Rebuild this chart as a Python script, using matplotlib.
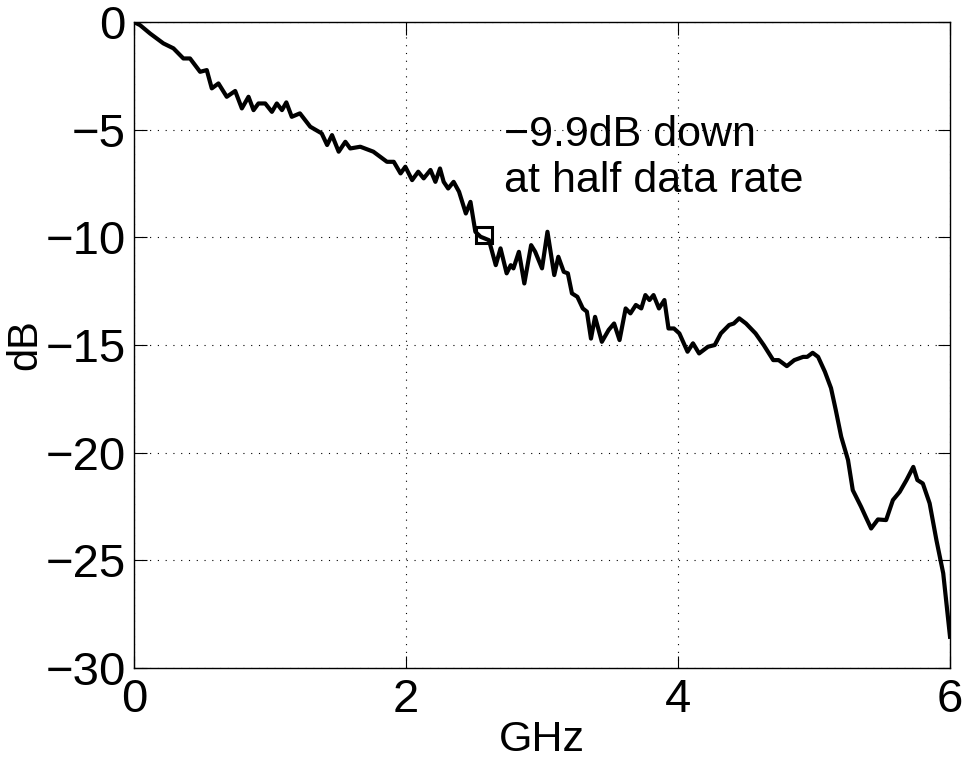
import matplotlib
matplotlib.use('Agg')
from matplotlib import pyplot as plt
import numpy as np

plt.rcParams['font.family'] = ['Liberation Sans', 'DejaVu Sans']

# frequency (GHz) and response (dB)
freq = [0.0, 0.044, 0.118, 0.216, 0.29, 0.363, 0.412, 0.486, 0.535, 0.572, 0.621,
        0.682, 0.744, 0.793, 0.842, 0.879, 0.915, 0.965, 1.014, 1.05, 1.088,
        1.12, 1.16, 1.22, 1.296, 1.38, 1.42, 1.456, 1.505, 1.554, 1.59, 1.664,
        1.76, 1.86, 1.91, 1.96, 1.995, 2.045, 2.09, 2.13, 2.18, 2.216, 2.25,
        2.277, 2.31, 2.35, 2.39, 2.44, 2.474, 2.51, 2.548, 2.61, 2.66, 2.695,
        2.74, 2.77, 2.79, 2.83, 2.87, 2.92, 2.95, 3.0, 3.04, 3.09, 3.12, 3.16,
        3.19, 3.22, 3.26, 3.30, 3.33, 3.36, 3.39, 3.44, 3.49, 3.53, 3.57, 3.615,
        3.65, 3.69, 3.73, 3.76, 3.79, 3.82, 3.86, 3.90, 3.93, 3.97, 4.01, 4.07,
        4.11, 4.155, 4.22, 4.27, 4.315, 4.376, 4.41, 4.45, 4.50, 4.57, 4.63,
        4.70, 4.74, 4.80, 4.855, 4.92, 4.95, 4.99, 5.03, 5.08, 5.125, 5.16,
        5.20, 5.25, 5.285, 5.346, 5.38, 5.42, 5.47, 5.53, 5.58, 5.63, 5.68,
        5.73, 5.76, 5.80, 5.85, 5.90, 5.95, 6.0]
gain = [0.0, -0.14, -0.53, -0.99, -1.22, -1.69, -1.69, -2.31, -2.23, -3.08, -2.85,
        -3.47, -3.2, -4.01, -3.47, -4.09, -3.78, -3.78, -4.17, -3.78, -4.09,
        -3.73, -4.40, -4.24, -4.86, -5.17, -5.71, -5.25, -6.02, -5.56, -5.87, -5.79,
        -6.02, -6.49, -6.49, -7.03, -6.72, -7.34, -6.95, -7.26, -6.87, -7.42, -6.80,
        -7.42, -7.73, -7.42, -7.88, -8.89, -8.35, -9.74, -9.97, -10.13, -11.29, -10.51,
        -11.67, -11.29, -11.44, -10.67, -12.14, -10.36, -10.67, -11.44, -9.74, -11.75, -10.9, -11.6,
        -11.67, -12.6, -12.76, -13.3, -13.45, -14.7, -13.69, -14.85, -14.3, -14.0, -14.77, -13.3,
        -13.53, -13.14, -13.3, -12.68, -12.91, -12.68, -13.3, -12.91, -14.23, -14.23, -14.46, -15.31,
        -14.92, -15.39, -15.08, -15.0, -14.46, -14.07, -14.0, -13.76, -14.0, -14.46, -15.0,
        -15.7, -15.7, -15.98, -15.7, -15.55, -15.55, -15.36, -15.55, -16.24, -17.0, -18.02,
        -19.26, -20.34, -21.74, -22.51, -22.98, -23.52, -23.1, -23.13, -22.2, -21.82, -21.27,
        -20.66, -21.27, -21.43, -22.35, -24.06, -25.6, -28.55]

half_rate_x = 2.57
half_rate_db = -9.9

fig = plt.figure(figsize=(9.64, 7.61), dpi=100)
ax = fig.add_axes([0.139, 0.1222, 0.8465, 0.8488])

ax.plot(freq, gain, color='black', lw=3.0, solid_joinstyle='round')
ax.plot([half_rate_x], [half_rate_db], 's', mfc='none', mec='black', ms=12, mew=2.2)
ax.text(2.72, -7.88, '\u22129.9dB down\nat half data rate', fontsize=31,
        va='baseline', ha='left', linespacing=1.2)

ax.set_xlim(0, 6)
ax.set_ylim(-30, 0)
ax.set_xticks([0, 2, 4, 6])
ax.set_yticks([-30, -25, -20, -15, -10, -5, 0])
ax.set_yticklabels(['\u221230', '\u221225', '\u221220', '\u221215', '\u221210', '\u22125', '0'])
ax.grid(True, color='black', linestyle=(0, (1, 6)), lw=0.8)
ax.tick_params(direction='in', top=True, right=True, labelsize=34, length=9)
ax.tick_params(axis='x', pad=7)
ax.tick_params(axis='y', pad=6)
for s in ax.spines.values():
    s.set_linewidth(1.0)
ax.set_xlabel('GHz', fontsize=31, labelpad=-1)
ax.set_ylabel('dB', fontsize=30, labelpad=0)

fig.savefig('out.png', dpi=100)
